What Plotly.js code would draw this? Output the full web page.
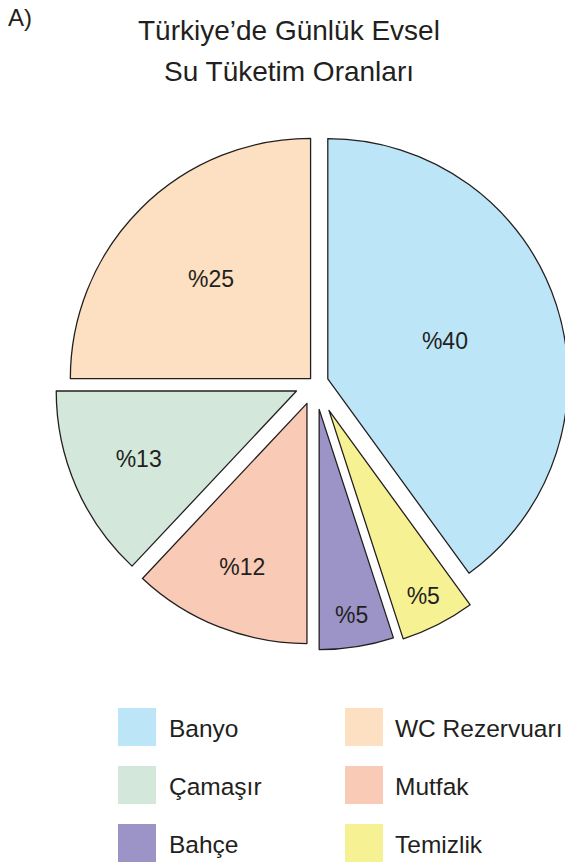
<!DOCTYPE html>
<html>
<head>
<meta charset="utf-8">
<script src="https://cdn.plot.ly/plotly-3.0.1.min.js"></script>
<style>
html,body{margin:0;padding:0;overflow:hidden;background:#fff;}
#chart{width:605px;height:863px;}
</style>
</head>
<body>
<div id="chart"></div>
<script>
// ---- data ----
var labels = ['Banyo', 'WC Rezervuarı', 'Çamaşır', 'Mutfak', 'Bahçe', 'Temizlik'];
var values = [40, 25, 13, 12, 5, 5];
var colors = ['#bde5f8', '#fde0c1', '#d3e8da', '#f9cbb6', '#9c94c7', '#f6f193'];
var titleLines = ['Türkiye’de Günlük Evsel', 'Su Tüketim Oranları'];
var panelTag = 'A)';

// ---- layout helpers (pixel -> paper) ----
var W = 605, H = 863;
var M = {l: 44, r: 19, t: 112, b: 209};
var PW = W - M.l - M.r, PH = H - M.t - M.b;
function px(x) { return (x - M.l) / PW; }
function py(y) { return 1 - (y - M.t) / PH; }

var ink = '#231f20';
var fontFam = '"Liberation Sans", Arial, Helvetica, sans-serif';

var trace = {
  type: 'pie',
  labels: labels,
  values: values,
  text: values.map(function (v) { return '%' + v; }),
  textinfo: 'text',
  textposition: 'inside',
  insidetextorientation: 'horizontal',
  textfont: {family: fontFam, size: 23, color: ink},
  sort: false,
  direction: 'counterclockwise',
  rotation: 0,
  pull: [0.056, 0.026, 0.084, 0.091, 0.111, 0.128],
  marker: {colors: colors, line: {color: ink, width: 1.3}},
  hoverinfo: 'none',
  showlegend: false,
  domain: {x: [0, 1], y: [0, 1]}
};

var annotations = [];
var shapes = [];

// title lines
var titleY = [30, 71];
titleLines.forEach(function (t, i) {
  annotations.push({
    xref: 'paper', yref: 'paper', x: px(289), y: py(titleY[i]),
    xanchor: 'center', yanchor: 'middle', showarrow: false,
    text: t, font: {family: fontFam, size: 28, color: ink}
  });
});
annotations.push({
  xref: 'paper', yref: 'paper', x: px(6), y: py(17),
  xanchor: 'left', yanchor: 'middle', showarrow: false,
  text: panelTag, font: {family: fontFam, size: 24, color: ink}
});

// legend (2 columns, row-major)
var colSq = [118, 345], colTx = [167, 393], rowY = [727, 785, 843], sq = 38;
labels.forEach(function (lab, i) {
  var c = i % 2, r = Math.floor(i / 2);
  shapes.push({
    type: 'rect', xref: 'paper', yref: 'paper',
    x0: px(colSq[c]), x1: px(colSq[c] + sq),
    y0: py(rowY[r] - sq / 2), y1: py(rowY[r] + sq / 2),
    fillcolor: colors[i], line: {width: 0}
  });
  annotations.push({
    xref: 'paper', yref: 'paper', x: px(colTx[c]), y: py(rowY[r] + 1),
    xanchor: 'left', yanchor: 'middle', showarrow: false,
    text: lab, font: {family: fontFam, size: 24.5, color: ink}
  });
});

var layout = {
  width: W, height: H,
  margin: M,
  paper_bgcolor: '#ffffff',
  plot_bgcolor: '#ffffff',
  showlegend: false,
  annotations: annotations,
  shapes: shapes,
  font: {family: fontFam, color: ink}
};

Plotly.newPlot('chart', [trace], layout, {displayModeBar: false, staticPlot: true});
</script>
</body>
</html>
